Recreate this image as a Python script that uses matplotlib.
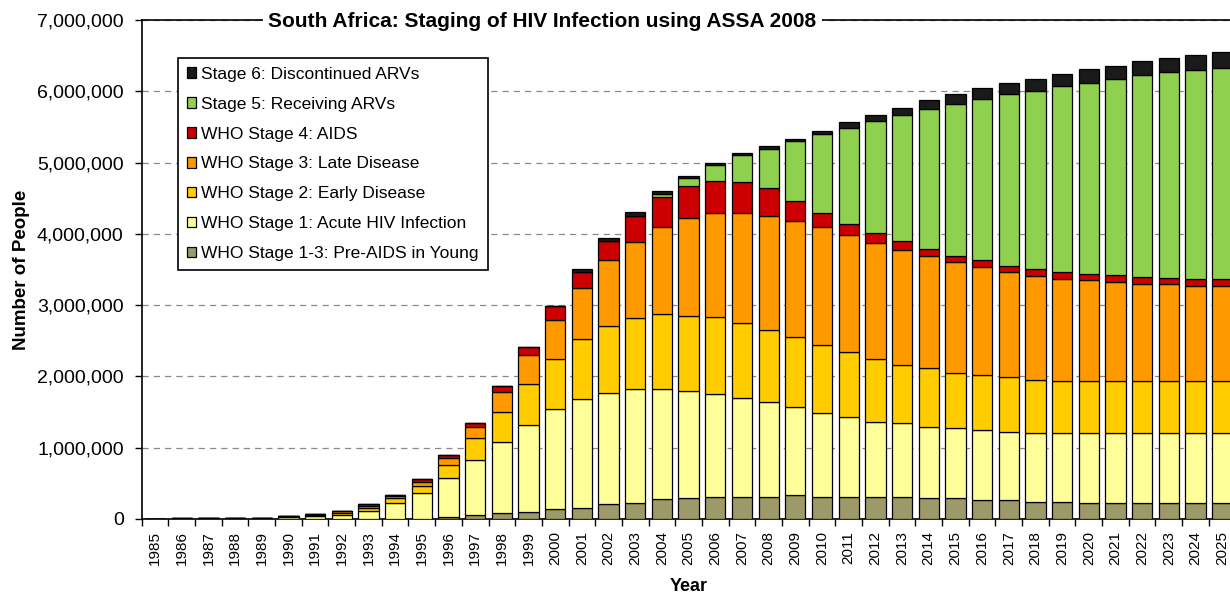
import matplotlib.pyplot as plt
from matplotlib.ticker import FuncFormatter, MultipleLocator
import numpy as np

plt.rcParams['font.family'] = ['Liberation Sans', 'DejaVu Sans']

years = list(range(1985, 2026))

# values in thousands of people
young = [0, 0, 0, 0, 0, 0, 0, 0, 0, 2, 5,
         24, 56, 80, 103, 136, 150, 206, 229, 276, 290,
         305, 305, 313, 337, 305, 305, 305, 313, 290, 290,
         267, 267, 243, 243, 229, 220, 220, 220, 220, 220]
stage1 = [0, 6, 9, 9, 12, 27, 42, 60, 112, 218, 356,
          556, 773, 997, 1217, 1413, 1535, 1568, 1592, 1545, 1508,
          1446, 1399, 1335, 1240, 1179, 1132, 1062, 1031, 1007, 983,
          983, 960, 969, 969, 983, 983, 983, 983, 983, 983]
stage2 = [0, 2, 3, 3, 4, 9, 14, 30, 45, 70, 107,
          178, 304, 421, 572, 698, 839, 937, 997, 1058, 1053,
          1082, 1044, 1006, 975, 950, 904, 880, 819, 820, 773,
          772, 758, 740, 717, 717, 726, 726, 726, 726, 726]
stage3 = [0, 1, 2, 2, 2, 5, 8, 17, 30, 30, 56,
          94, 155, 281, 402, 538, 716, 917, 1068, 1212, 1372,
          1460, 1545, 1602, 1633, 1663, 1648, 1625, 1615, 1577, 1554,
          1508, 1474, 1461, 1442, 1418, 1395, 1367, 1372, 1343, 1343]
stage4 = [0, 1, 1, 1, 2, 4, 6, 10, 19, 17, 38,
          47, 64, 93, 117, 197, 219, 276, 370, 427, 454,
          454, 436, 389, 272, 196, 150, 141, 117, 94, 94,
          98, 94, 94, 94, 94, 103, 98, 79, 99, 94]
stage5 = [0, 0, 0, 0, 0, 0, 0, 0, 0, 0, 0,
          0, 0, 0, 0, 0, 0, 0, 0, 42, 108,
          220, 375, 552, 843, 1114, 1348, 1567, 1769, 1966, 2130,
          2257, 2412, 2495, 2607, 2678, 2739, 2837, 2889, 2921, 2964]
stage6 = [0, 0, 0, 0, 0, 0, 0, 0, 0, 0, 0,
          0, 0, 0, 0, 0, 52, 38, 46, 37, 32,
          28, 32, 32, 37, 42, 79, 94, 104, 121, 131,
          154, 145, 173, 174, 187, 187, 188, 192, 215, 219]

series = [
    ("WHO Stage 1-3: Pre-AIDS in Young", young, "#9c9a68"),
    ("WHO Stage 1: Acute HIV Infection", stage1, "#ffff99"),
    ("WHO Stage 2: Early Disease", stage2, "#ffcc00"),
    ("WHO Stage 3: Late Disease", stage3, "#ff9900"),
    ("WHO Stage 4: AIDS", stage4, "#cc0000"),
    ("Stage 5: Receiving ARVs", stage5, "#8fd14f"),
    ("Stage 6: Discontinued ARVs", stage6, "#1a1a1a"),
]

fig = plt.figure(figsize=(12.3, 5.93), dpi=100)
ax = fig.add_axes([0.1152, 0.1248, 0.8893, 0.8415])

x = np.arange(len(years))
bottom = np.zeros(len(years))
handles = []
for label, vals, color in series:
    v = np.array(vals) * 1000.0
    b = ax.bar(x, v, bottom=bottom, width=0.76, color=color,
               edgecolor="black", linewidth=0.9, label=label, zorder=3)
    handles.append(b)
    bottom += v

ax.set_xlim(-0.5, len(years) - 0.5)
ax.set_ylim(0, 7000000)
ax.yaxis.set_major_locator(MultipleLocator(1000000))
ax.yaxis.set_major_formatter(FuncFormatter(lambda v, p: f"{int(v):,}"))
ax.grid(axis="y", color="#8a8a8a", linestyle=(0, (5, 4)), linewidth=0.9, zorder=0)

ax.set_xticks(x)
ax.set_xticklabels([str(y) for y in years], rotation=90, fontsize=11)
ax.set_xticks(np.arange(-0.5, len(years), 1), minor=True)
ax.tick_params(axis="x", which="major", length=0, pad=9)
ax.tick_params(axis="x", which="minor", length=5, width=1, direction="out")
ax.tick_params(axis="y", length=5, width=1, direction="out", labelsize=14, pad=8)

for s in ["left", "bottom", "top"]:
    ax.spines[s].set_linewidth(1.2)
ax.spines["right"].set_visible(False)

ax.set_xlabel("Year", fontsize=13, fontweight="bold", labelpad=9)
ax.set_ylabel("Number of People", fontsize=13.5, fontweight="bold", labelpad=5)

fig.text(0.441, 0.963, "South Africa: Staging of HIV Infection using ASSA 2008",
         ha="center", va="center", fontsize=15, fontweight="bold",
         bbox=dict(facecolor="white", edgecolor="none", pad=4))

leg = ax.legend(handles[::-1], [s[0] for s in series][::-1],
                loc="upper left", bbox_to_anchor=(0.1447, 0.9022),
                bbox_transform=fig.transFigure, fontsize=12.5, fancybox=False,
                edgecolor="black", framealpha=1, handlelength=0.55,
                handleheight=0.55, handletextpad=0.3, labelspacing=0.86,
                borderpad=0.5, borderaxespad=0)
leg.get_frame().set_linewidth(1.2)
leg.set_zorder(5)

fig.savefig("out.png", dpi=100)
